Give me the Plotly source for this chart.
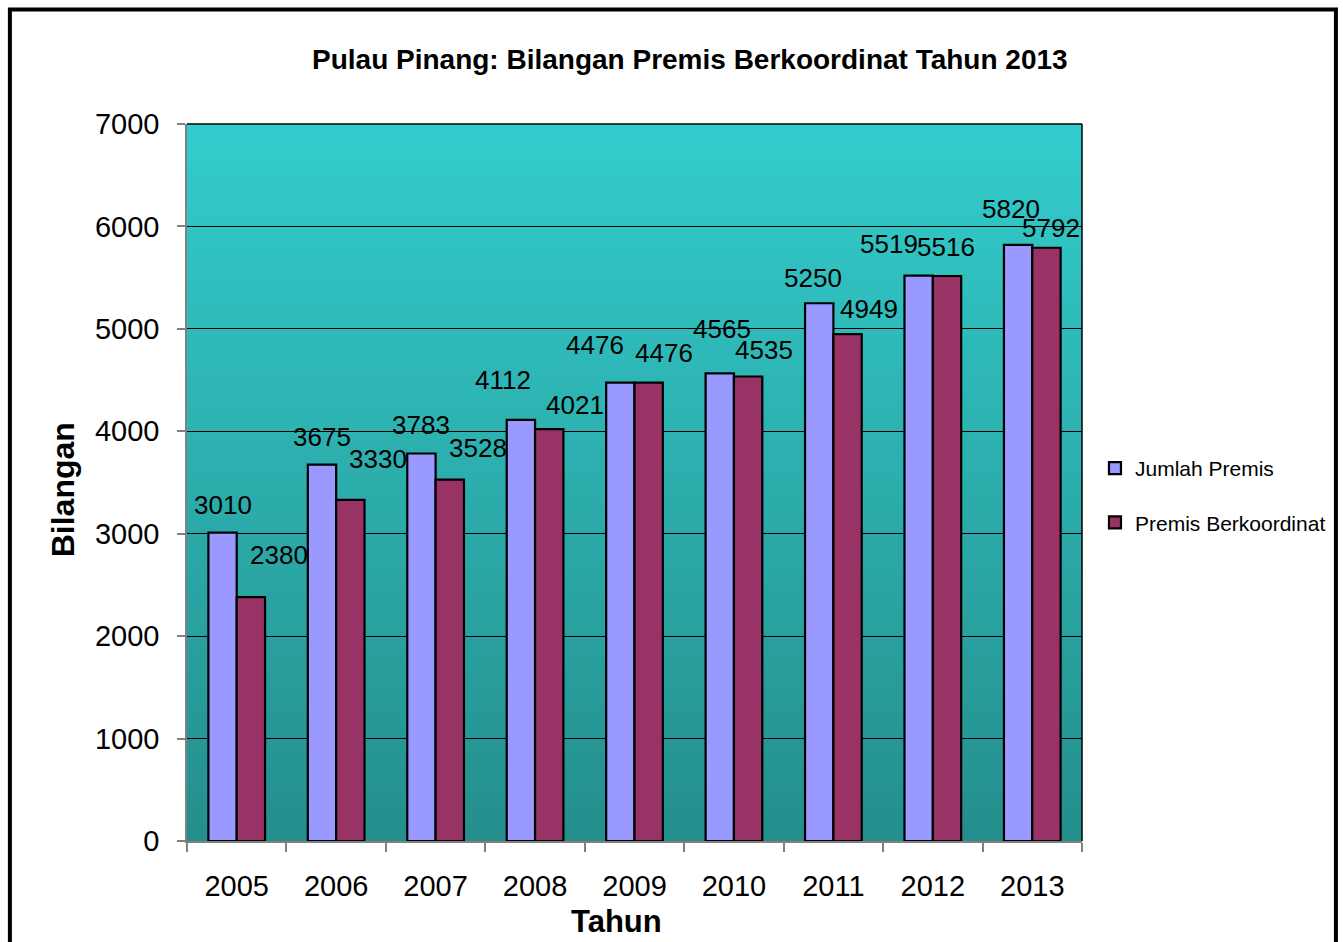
import plotly.graph_objects as go

years = ["2005", "2006", "2007", "2008", "2009", "2010", "2011", "2012", "2013"]
jumlah_premis = [3010, 3675, 3783, 4112, 4476, 4565, 5250, 5519, 5820]
premis_berkoordinat = [2380, 3330, 3528, 4021, 4476, 4535, 4949, 5516, 5792]

series_names = ["Jumlah Premis", "Premis Berkoordinat"]
title_text = "Pulau Pinang: Bilangan Premis Berkoordinat Tahun 2013"
x_title = "Tahun"
y_title = "Bilangan"

# styling: pixel offsets of data labels (dx, dy) as placed in the original
jumlah_label_offsets = [(0, 26), (0, 26), (0, 27), (-18, 38), (-25, 36), (2, 42), (-6, 23), (-30, 30), (-7, 34)]
premis_label_offsets = [(28, 40), (28, 39), (28, 30), (26, 22), (15, 28), (16, 24), (21, 23), (-1, 27), (5, 18)]

W, H = 1343, 942
PL, PT, PR, PB = 187, 124, 1084, 841          # plot area in window pixels
L, T = PL, PT
R, B = W - PR, H - PB
PW, PH = PR - PL, PB - PT
FONT = "Arial, Liberation Sans, sans-serif"

def px_to_paper_x(px):
    return (px - PL) / PW

def px_to_paper_y(py):
    return (PB - py) / PH

fig = go.Figure()
fig.add_trace(go.Bar(
    x=years, y=jumlah_premis, name=series_names[0], legendgroup="a",
    marker=dict(color="#9999FF", line=dict(color="#000000", width=2.2)),
))
fig.add_trace(go.Bar(
    x=years, y=premis_berkoordinat, name=series_names[1], legendgroup="b",
    marker=dict(color="#993366", line=dict(color="#000000", width=2.2)),
))

shapes = []
# gradient background of the plot area
n = 80
top = (51, 204, 204)
bot = (36, 143, 141)
for i in range(n):
    f = i / (n - 1)
    c = tuple(round(bot[k] + (top[k] - bot[k]) * f) for k in range(3))
    shapes.append(dict(type="rect", xref="x domain", yref="y domain",
                       x0=0, x1=1, y0=i / n, y1=min(1, (i + 1.6) / n),
                       fillcolor="rgb(%d,%d,%d)" % c, line=dict(width=0), layer="below"))
# plot area border top and right
shapes.append(dict(type="line", xref="x domain", yref="y domain", x0=0, x1=1, y0=1, y1=1,
                   line=dict(color="#000000", width=1.5)))
shapes.append(dict(type="line", xref="x domain", yref="y domain", x0=1, x1=1, y0=0, y1=1,
                   line=dict(color="#000000", width=1.5)))
# outer frame
shapes.append(dict(type="rect", xref="paper", yref="paper",
                   x0=px_to_paper_x(9.5), x1=px_to_paper_x(1338.5),
                   y0=px_to_paper_y(9.5), y1=px_to_paper_y(990),
                   line=dict(color="#000000", width=4), fillcolor="rgba(0,0,0,0)"))

annotations = []
half = 14.2
for i, yr in enumerate(years):
    dx, dy = jumlah_label_offsets[i]
    annotations.append(dict(x=i, y=jumlah_premis[i], xref="x", yref="y",
                            text=str(jumlah_premis[i]), showarrow=False,
                            xshift=-half + dx, yshift=dy + 2, yanchor="middle",
                            font=dict(family=FONT, size=26, color="#000000")))
    dx, dy = premis_label_offsets[i]
    annotations.append(dict(x=i, y=premis_berkoordinat[i], xref="x", yref="y",
                            text=str(premis_berkoordinat[i]), showarrow=False,
                            xshift=half + dx, yshift=dy + 2, yanchor="middle",
                            font=dict(family=FONT, size=26, color="#000000")))

annotations.append(dict(x=px_to_paper_x(691), y=px_to_paper_y(60), xref="paper", yref="paper",
                        text="<b>%s</b>" % title_text, showarrow=False, yanchor="middle",
                        font=dict(family=FONT, size=28, color="#000000")))
annotations.append(dict(x=px_to_paper_x(617), y=px_to_paper_y(922), xref="paper", yref="paper",
                        text="<b>%s</b>" % x_title, showarrow=False, yanchor="middle",
                        font=dict(family=FONT, size=31, color="#000000")))
annotations.append(dict(x=px_to_paper_x(63), y=px_to_paper_y(490), xref="paper", yref="paper",
                        text="<b>%s</b>" % y_title, showarrow=False, textangle=-90,
                        xanchor="center", yanchor="middle",
                        font=dict(family=FONT, size=32, color="#000000")))

fig.update_layout(
    width=W, height=H, autosize=False,
    margin=dict(l=L, r=R, t=T, b=B, pad=0),
    paper_bgcolor="#FFFFFF", plot_bgcolor="#2FB5B5",
    barmode="group", bargap=0.43, bargroupgap=0,
    font=dict(family=FONT, color="#000000"),
    showlegend=True,
    legend=dict(x=px_to_paper_x(1097), y=px_to_paper_y(448), xanchor="left", yanchor="top",
                font=dict(family=FONT, size=21, color="#000000"),
                bgcolor="rgba(0,0,0,0)", borderwidth=0,
                traceorder="grouped", tracegroupgap=24, itemwidth=30),
    shapes=shapes, annotations=annotations,
)
fig.update_xaxes(
    type="category", range=[-0.5, len(years) - 0.5], autorange=False,
    showgrid=False, showline=True, linecolor="#808080", linewidth=1.5,
    ticks="outside", tickson="boundaries", ticklen=9, tickcolor="#808080", tickwidth=1.5,
    tickfont=dict(family=FONT, size=29, color="#000000"), zeroline=False,
    ticklabelstandoff=18,
)
fig.update_yaxes(
    range=[0, 7000], autorange=False, dtick=1000, tick0=0, showgrid=True,
    gridcolor="#000000", gridwidth=1,
    showline=True, linecolor="#808080", linewidth=1.5, zeroline=False,
    ticks="outside", ticklen=8, tickcolor="#808080", tickwidth=1.5,
    tickfont=dict(family=FONT, size=29, color="#000000"),
    ticklabelstandoff=12,
)

fig.write_html(
    "out.html",
    config={"displayModeBar": False},
    post_script="document.body.style.margin='0';document.body.style.overflow='hidden';",
)
